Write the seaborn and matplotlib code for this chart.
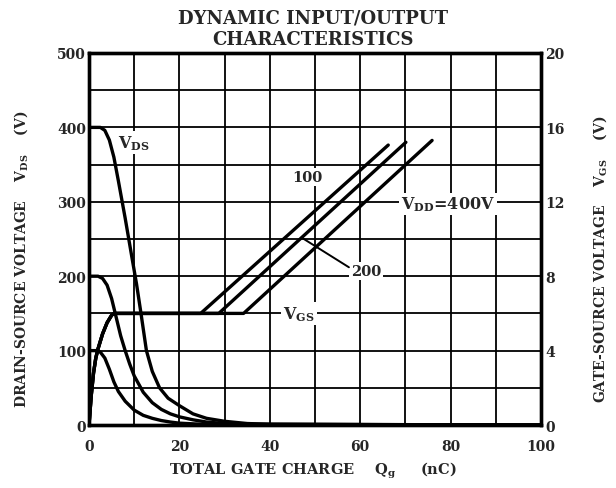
import numpy as np
import pandas as pd
import seaborn as sns
import matplotlib.pyplot as plt

# ---------------- Data ----------------
# VDS curves, total gate charge in nC -> drain-source voltage in V
q_vds400 = [0, 2.5, 3.5, 4.5, 5.5, 6.5, 8, 9.5, 10.5, 11.5, 12.7, 14, 15.6, 17.5, 20, 23, 26, 30, 35, 40, 100]
v_vds400 = [400, 400, 396, 383, 360, 328, 278, 225, 190, 150, 100, 72, 50, 36, 26, 15, 9, 5, 2, 1, 0]

q_vds200 = [0, 2, 3, 4, 5, 6, 7, 8, 9, 10, 12, 14, 16, 18, 20, 23, 26, 30, 35, 100]
v_vds200 = [200, 200, 197, 188, 170, 145, 120, 100, 82, 66, 44, 30, 21, 15, 11, 7, 4, 2, 1, 0]

q_vds100 = [0, 1.5, 2.5, 3.5, 4.5, 5.5, 6.5, 8, 10, 12, 14, 16, 18, 20, 25, 100]
v_vds100 = [100, 100, 98, 90, 75, 58, 45, 32, 20, 13, 9, 6, 4, 2.5, 1, 0]

# VGS curves: common rise, plateau at 6 V, then linear rise per VDD
q_rise = [0, 0.5, 1, 1.5, 2, 3, 4, 5, 5.5]
v_rise = [0, 1.6, 2.8, 3.6, 4.1, 4.9, 5.5, 5.9, 6.0]
vdd_list = [100, 200, 400]
q_plateau_end = [24.7, 28.7, 34.2]
q_top = [66.2, 70.1, 75.9]
v_top = [15.05, 15.2, 15.3]

x_ticks = [0, 20, 40, 60, 80, 100]
left_ticks = [0, 100, 200, 300, 400, 500]
right_ticks = [0, 4, 8, 12, 16, 20]

# ---------------- Style ----------------
sns.set_style("white")
plt.rcParams["font.family"] = ["DejaVu Serif"]
plt.rcParams["font.weight"] = "bold"
plt.rcParams["mathtext.fontset"] = "dejavuserif"
plt.rcParams["mathtext.default"] = "bf"

fig = plt.figure(figsize=(6.16, 4.89), dpi=100)
ax = fig.add_axes([0.1445, 0.1288, 0.7338, 0.7608])
ax2 = ax.twinx()

lw = 2.4
for q, v in [(q_vds400, v_vds400), (q_vds200, v_vds200), (q_vds100, v_vds100)]:
    sns.lineplot(x=q, y=v, color="black", lw=lw, ax=ax, zorder=5)

for vdd, qe, qt, vt in zip(vdd_list, q_plateau_end, q_top, v_top):
    df = pd.DataFrame({"q": q_rise + [qe, qt], "vgs": v_rise + [6.0, vt]})
    sns.lineplot(data=df, x="q", y="vgs", color="black", lw=lw, ax=ax2, zorder=5)

# ---------------- Axes ----------------
ax.set_xlim(0, 100)
ax.set_ylim(0, 500)
ax2.set_ylim(0, 20)
ax.set_xticks(x_ticks)
ax.set_xticks(np.arange(0, 101, 10), minor=True)
ax.set_yticks(left_ticks)
ax.set_yticks(np.arange(0, 501, 50), minor=True)
ax2.set_yticks(right_ticks)
ax.grid(True, which="both", color="black", lw=1.3)
ax.set_axisbelow(True)
ax.tick_params(which="both", length=0, labelsize=10)
ax.tick_params(axis="y", pad=2)
ax.tick_params(axis="x", pad=10)
ax2.tick_params(length=0, labelsize=10, pad=3)
for a in (ax, ax2):
    for s in a.spines.values():
        s.set_linewidth(2.4)
        s.set_color("black")
ax.set_xlabel("")
ax.set_ylabel("")
ax2.set_ylabel("")

# ---------------- Labels on the chart ----------------
box = dict(facecolor="white", edgecolor="none", pad=1.5)
ax.text(6.5, 380, "V$_{DS}$", fontsize=11.5, va="center", ha="left", bbox=box, zorder=3)
ax.text(48.2, 333, "100", fontsize=10.5, va="center", ha="center", bbox=box, zorder=3)
ax.text(69, 297, "V$_{DD}$=400V", fontsize=11.5, va="center", ha="left", bbox=box, zorder=3)
ax.text(61.3, 207, "200", fontsize=10.5, va="center", ha="center", bbox=box, zorder=3)
ax.text(43, 150, "V$_{GS}$", fontsize=11.5, va="center", ha="left", bbox=box, zorder=3)
ax.plot([47, 57.5], [252, 212], color="black", lw=1.4, zorder=4)

# ---------------- Titles ----------------
fig.text(0.508, 0.962, "DYNAMIC INPUT/OUTPUT", ha="center", va="center", fontsize=13)
fig.text(0.508, 0.919, "CHARACTERISTICS", ha="center", va="center", fontsize=13)
fig.text(0.508, 0.038, "TOTAL GATE CHARGE    Q$_g$     (nC)", ha="center", va="center", fontsize=10.5)
fig.text(0.034, 0.47, "DRAIN-SOURCE VOLTAGE    V$_{DS}$    (V)", ha="center", va="center",
         rotation=90, fontsize=10)
fig.text(0.974, 0.47, "GATE-SOURCE VOLTAGE    V$_{GS}$    (V)", ha="center", va="center",
         rotation=90, fontsize=10)

fig.savefig("out.png", dpi=100)
